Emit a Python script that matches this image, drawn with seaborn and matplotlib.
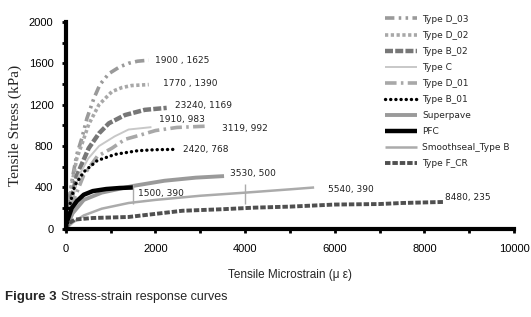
import matplotlib
matplotlib.use("Agg")
import matplotlib.pyplot as plt
import seaborn as sns
import pandas as pd

# curves: strain (micro-eps) and stress (kPa)
d03_x = [0, 60, 150, 245, 357, 470, 625, 760, 960, 1200, 1400, 1600, 1850]
d03_y = [0, 250, 500, 720, 875, 1067, 1260, 1394, 1500, 1565, 1600, 1620, 1630]
d02_x = [0, 60, 150, 245, 357, 510, 740, 1030, 1250, 1470, 1850]
d02_y = [0, 220, 470, 683, 817, 1010, 1200, 1327, 1365, 1385, 1394]
b02_x = [0, 100, 250, 510, 740, 960, 1320, 1760, 2250]
b02_y = [0, 250, 520, 779, 923, 1020, 1100, 1150, 1169]
c_x = [0, 100, 300, 500, 740, 1090, 1400, 1910]
c_y = [0, 250, 520, 680, 800, 894, 960, 983]
d01_x = [0, 150, 400, 700, 1030, 1320, 1610, 2000, 2480, 3119]
d01_y = [0, 250, 520, 700, 780, 865, 900, 950, 980, 992]
b01_x = [0, 70, 200, 400, 700, 1100, 1600, 2000, 2420]
b01_y = [0, 200, 420, 550, 660, 720, 755, 765, 768]
sp_x = [0, 150, 400, 800, 1500, 2200, 2900, 3530]
sp_y = [0, 150, 280, 350, 415, 465, 495, 510]
pfc_x = [0, 50, 130, 250, 400, 600, 900, 1200, 1500]
pfc_y = [0, 100, 200, 270, 330, 365, 385, 395, 400]
ss_x = [0, 150, 400, 800, 1400, 2000, 3000, 4000, 5000, 5540]
ss_y = [0, 60, 130, 195, 250, 280, 320, 350, 382, 400]
fcr_x = [0, 50, 200, 600, 1400, 2000, 2600, 3500, 4200, 5000, 6000, 7000, 7500, 8420]
fcr_y = [0, 50, 90, 105, 115, 145, 175, 190, 205, 215, 235, 240, 250, 260]

# little vertical bars on the Smoothseal curve
bar_x = [1500, 4000]
bar_lo = [245, 245]
bar_hi = [430, 430]

names = ["Type D_03", "Type D_02", "Type B_02", "Type C", "Type D_01",
         "Type B_01", "Superpave", "PFC", "Smoothseal_Type B", "Type F_CR"]
end_labels = ["1900 , 1625", "1770 , 1390", "23240, 1169", "1910, 983", "3119, 992",
              "2420, 768", "3530, 500", "1500, 390", "5540, 390", "8480, 235"]

curves = [(d03_x, d03_y), (d02_x, d02_y), (b02_x, b02_y), (c_x, c_y), (d01_x, d01_y),
          (b01_x, b01_y), (sp_x, sp_y), (pfc_x, pfc_y), (ss_x, ss_y), (fcr_x, fcr_y)]

styles = [
    dict(color="#9a9a9a", lw=2.6, dashes=(2.6, 1.2, 0.7, 1.2, 0.7, 1.2)),
    dict(color="#a8a8a8", lw=2.6, dashes=(0.9, 0.7)),
    dict(color="#777777", lw=3.2, dashes=(1.8, 0.5)),
    dict(color="#c8c8c8", lw=1.4, dashes=None),
    dict(color="#a8a8a8", lw=2.6, dashes=(3.2, 1.2, 0.7, 1.2)),
    dict(color="black", lw=2.4, dashes=(0.05, 1.5)),
    dict(color="#9a9a9a", lw=2.8, dashes=None),
    dict(color="black", lw=3.2, dashes=None),
    dict(color="#ababab", lw=1.8, dashes=None),
    dict(color="#505050", lw=2.8, dashes=(1.4, 0.5)),
]
# label offsets in pixels from the curve end
offsets = [(6, 0), (14, 1), (8, 2), (8, 8), (16, -2),
           (9, 0), (6, 3), (5, -6), (14, -2), (2, 4)]

sns.set_theme(style="white")
plt.rcParams["font.family"] = ["Liberation Sans", "DejaVu Sans"]

fig = plt.figure(figsize=(5.31, 3.17), dpi=100)
ax = fig.add_axes([0.124, 0.278, 0.844, 0.653])

for name, (xs, ys), st in zip(names, curves, styles):
    df = pd.DataFrame({"strain": xs, "stress": ys})
    kw = {}
    if st["dashes"] is not None:
        kw["dashes"] = st["dashes"]
    sns.lineplot(data=df, x="strain", y="stress", ax=ax, color=st["color"],
                 linewidth=st["lw"], sort=False, estimator=None, label=name,
                 solid_capstyle="butt", **kw)
    if name == "Type B_01":
        ax.lines[-1].set_dash_capstyle("round")

ax.vlines(bar_x, bar_lo, bar_hi, color="#ababab", lw=1)

for lab, (xs, ys), off in zip(end_labels, curves, offsets):
    ax.annotate(lab, (xs[-1], ys[-1]), xytext=off, textcoords="offset pixels",
                fontsize=6.5, family=["DejaVu Sans"], ha="left", va="center",
                color="#222222")

ax.set_xlim(0, 10000)
ax.set_ylim(0, 2000)
ax.set_xticks(range(0, 10001, 2000))
ax.set_xticks(range(0, 10001, 1000), minor=True)
ax.set_yticks(range(0, 2001, 400))
ax.set_yticks(range(0, 2001, 200), minor=True)
ax.tick_params(axis="both", which="both", direction="out", length=3, width=2,
               colors="black", labelsize=8)
ax.tick_params(axis="x", which="major", pad=8)
ax.tick_params(axis="y", which="major", pad=6)
ax.tick_params(which="both", bottom=True, left=True)

sns.despine(ax=ax)
for s in ["left", "bottom"]:
    ax.spines[s].set_linewidth(3)
    ax.spines[s].set_color("black")

ax.set_xlabel("Tensile Microstrain (\u03bc \u03b5)", fontsize=8.5, labelpad=11)
ax.set_ylabel("Tensile Stress (kPa)", fontsize=11, family=["Liberation Serif"], labelpad=5)

leg = ax.legend(loc="upper left", bbox_to_anchor=(0.712, 1.035), frameon=False,
                fontsize=6.5, handlelength=3.5, handletextpad=0.6, labelspacing=0.78,
                borderaxespad=0, borderpad=0)
for t in leg.get_texts():
    t.set_family(["DejaVu Sans"])

fig.text(0.01, 0.055, "Figure 3", fontsize=9.5, fontweight="bold")
fig.text(0.115, 0.055, "Stress-strain response curves", fontsize=9,
         family=["Liberation Sans Narrow", "Liberation Sans"])

fig.savefig("out.png", dpi=100, facecolor="white")
